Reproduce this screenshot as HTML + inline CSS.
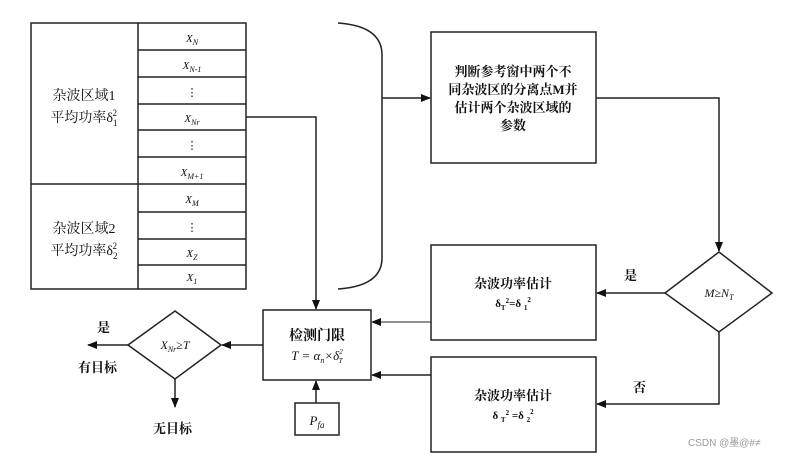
<!DOCTYPE html>
<html><head><meta charset="utf-8"><style>
body{margin:0;background:#fff;}
svg text{font-family:"Liberation Serif","Noto Serif CJK SC","Noto Sans CJK SC",serif;fill:#111;}
.b{font-weight:bold;}
</style></head><body>
<svg width="786" height="459" viewBox="0 0 786 459" xmlns="http://www.w3.org/2000/svg">
<defs><marker id="a" markerWidth="10" markerHeight="10" refX="9" refY="5" orient="auto" markerUnits="userSpaceOnUse"><path d="M0,1 L10,5 L0,9 Z" fill="#111"/></marker></defs>
<g stroke="#222" stroke-width="1.5" fill="none">
<rect x="31" y="23" width="215" height="266"/>
<line x1="138" y1="23" x2="138" y2="289"/>
<line x1="31" y1="184" x2="138" y2="184"/>
<line x1="138" y1="50" x2="246" y2="50"/><line x1="138" y1="77" x2="246" y2="77"/>
<line x1="138" y1="104" x2="246" y2="104"/><line x1="138" y1="130" x2="246" y2="130"/>
<line x1="138" y1="157" x2="246" y2="157"/><line x1="138" y1="184" x2="246" y2="184"/>
<line x1="138" y1="212" x2="246" y2="212"/><line x1="138" y1="239" x2="246" y2="239"/>
<line x1="138" y1="265" x2="246" y2="265"/>
<path d="M338,23 Q382,26 382,55 L382,258 Q382,286 338,289"/>
<line x1="382" y1="98" x2="430" y2="98" marker-end="url(#a)"/>
<rect x="431" y="32" width="165" height="131"/>
<polyline points="596,98 719,98 719,251" marker-end="url(#a)"/>
<polygon points="719,252 772,293 719,332 665,293"/>
<line x1="665" y1="293" x2="597" y2="293" marker-end="url(#a)"/>
<polyline points="719,332 719,404 597,404" marker-end="url(#a)"/>
<rect x="431" y="245" width="165" height="95"/>
<rect x="431" y="357" width="165" height="95"/>
<line x1="431" y1="322" x2="372" y2="322" stroke-width="1" marker-end="url(#a)"/>
<line x1="431" y1="375" x2="372" y2="375" marker-end="url(#a)"/>
<rect x="263" y="310" width="108" height="70"/>
<polyline points="246,117 316,117 316,309" marker-end="url(#a)"/>
<rect x="295" y="403" width="44" height="32"/>
<line x1="316" y1="403" x2="316" y2="381" marker-end="url(#a)"/>
<line x1="263" y1="345" x2="222" y2="345" marker-end="url(#a)"/>
<polygon points="175,311 221,345 175,379 128,345"/>
<line x1="128" y1="345" x2="88" y2="345" marker-end="url(#a)"/>
<line x1="175" y1="379" x2="175" y2="407" marker-end="url(#a)"/>
</g>
<g font-style="italic" font-size="11" text-anchor="middle">
<text x="192" y="42">X<tspan font-size="8" dy="3">N</tspan></text>
<text x="192" y="69">X<tspan font-size="8" dy="3">N-1</tspan></text>
<text x="192" y="96" font-style="normal">⋮</text>
<text x="192" y="122">X<tspan font-size="8" dy="3">Nr</tspan></text>
<text x="192" y="149" font-style="normal">⋮</text>
<text x="192" y="176">X<tspan font-size="8" dy="3">M+1</tspan></text>
<text x="192" y="203">X<tspan font-size="8" dy="3">M</tspan></text>
<text x="192" y="231" font-style="normal">⋮</text>
<text x="192" y="257">X<tspan font-size="8" dy="3">Z</tspan></text>
<text x="192" y="281">X<tspan font-size="8" dy="3">1</tspan></text>
</g>
<g font-size="14" text-anchor="middle">
<text x="84" y="100">杂波区域1</text>
<text x="84" y="122">平均功率δ<tspan font-size="9" dy="4">1</tspan><tspan font-size="9" dx="-5" dy="-10">2</tspan></text>
<text x="84" y="233">杂波区域2</text>
<text x="84" y="255">平均功率δ<tspan font-size="9" dy="4">2</tspan><tspan font-size="9" dx="-5" dy="-10">2</tspan></text>
</g>
<g font-size="13" class="b" text-anchor="middle">
<text x="513" y="76">判断参考窗中两个不</text>
<text x="513" y="94">同杂波区的分离点M并</text>
<text x="513" y="112">估计两个杂波区域的</text>
<text x="513" y="130">参数</text>
<text x="513" y="288">杂波功率估计</text>
<text x="513" y="307" font-size="11">δ<tspan font-size="7" dy="3">T</tspan><tspan font-size="7" dy="-7">2</tspan><tspan dy="4">=δ </tspan><tspan font-size="7" dy="3">1</tspan><tspan font-size="7" dy="-8">2</tspan></text>
<text x="513" y="400">杂波功率估计</text>
<text x="513" y="419" font-size="11">δ <tspan font-size="7" dy="3">T</tspan><tspan font-size="7" dy="-7">2</tspan><tspan dy="4"> =δ </tspan><tspan font-size="7" dy="3">2</tspan><tspan font-size="7" dy="-8">2</tspan></text>
<text x="317" y="340" font-size="14">检测门限</text>
</g>
<text x="317" y="360" font-size="13" font-style="italic" text-anchor="middle">T = α<tspan font-size="8" dy="3">n</tspan><tspan dy="-3">×δ</tspan><tspan font-size="7" dy="-6">2</tspan><tspan font-size="7" dx="-4" dy="9">T</tspan></text>
<text x="317" y="425" font-size="13" font-style="italic" text-anchor="middle">P<tspan font-size="9" dy="3">fa</tspan></text>
<text x="719" y="297" font-size="12" font-style="italic" text-anchor="middle">M≥N<tspan font-size="8" dy="3">T</tspan></text>
<text x="175" y="349" font-size="12" font-style="italic" text-anchor="middle">X<tspan font-size="8" dy="3">Nr</tspan><tspan dy="-3">≥T</tspan></text>
<g font-size="13" class="b">
<text x="624" y="280">是</text>
<text x="633" y="392">否</text>
<text x="97" y="332">是</text>
<text x="78" y="372">有目标</text>
<text x="153" y="433">无目标</text>
</g>
<text x="688" y="446" font-size="10" fill="#999" style="fill:#999;font-family:'Liberation Sans','Noto Sans CJK SC',sans-serif">CSDN @墨@#≠</text>
</svg>
</body></html>
